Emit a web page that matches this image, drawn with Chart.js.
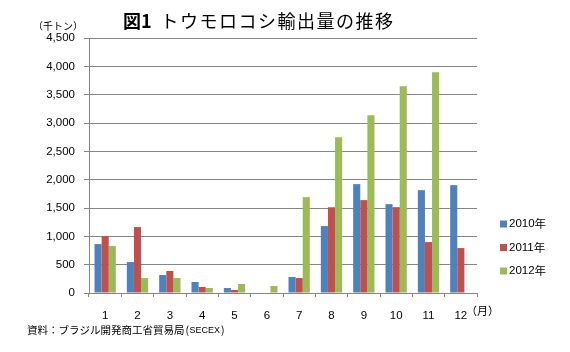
<!DOCTYPE html>
<html>
<head>
<meta charset="utf-8">
<script src="https://cdn.jsdelivr.net/npm/chart.js@4"></script>
<style>
  body { margin: 0; background: #fff; }
  #wrap { width: 570px; height: 352px; }
</style>
</head>
<body>
<div id="wrap"><canvas id="mycanvas" width="570" height="352"></canvas></div>
<script>
var months = ['1', '2', '3', '4', '5', '6', '7', '8', '9', '10', '11', '12'];
var years = ['2010年', '2011年', '2012年'];
var v2010 = [863, 546, 317, 194, 88, 0, 282, 1181, 1921, 1568, 1815, 1903];
var v2011 = [1004, 1163, 388, 106, 53, 0, 264, 1515, 1639, 1515, 899, 793];
var v2012 = [828, 264, 264, 88, 159, 123, 1692, 2749, 3137, 3648, 3894, null];
var yTicks = [0, 500, 1000, 1500, 2000, 2500, 3000, 3500, 4000, 4500];
var colors = ['#4f81bd', '#c0504d', '#9bbb59'];

var jp = '"Noto Sans CJK JP", sans-serif';
var num = '"Liberation Sans", sans-serif';

var extras = {
  id: 'extras',
  afterDraw: function(chart) {
    var c = chart.ctx;
    var area = chart.chartArea;
    c.save();
    c.fillStyle = '#000';
    c.textBaseline = 'middle';
    c.textAlign = 'left';
    // title
    c.font = 'bold 18px ' + jp;
    c.fillText('図1', 123, 21);
    var tw = c.measureText('図1').width;
    c.font = '18px ' + jp;
    c.letterSpacing = '1.5px';
    c.fillText('トウモロコシ輸出量の推移', 123 + tw + 9, 21);
    c.letterSpacing = '0px';
    // unit labels
    c.font = '10px ' + jp;
    c.fillText('（千トン）', 33, 26);
    c.font = '11px ' + jp;
    c.fillText('（月）', 466, 311);
    // source
    c.font = '10.5px ' + jp;
    var src = '資料：ブラジル開発商工省貿易局';
    c.fillText(src, 27, 330);
    var sw = c.measureText(src).width;
    c.fillText('(', 27 + sw + 1, 330);
    c.font = '9px ' + num;
    c.fillText('SECEX', 27 + sw + 5, 331);
    var ew = c.measureText('SECEX').width;
    c.font = '10.5px ' + jp;
    c.fillText(')', 27 + sw + 6 + ew, 330);
    // legend
    chart.data.datasets.forEach(function(ds, i) {
      var y = 224 + i * 23.5;
      var txt = ds.label.replace('年', '');
      c.fillStyle = ds.backgroundColor;
      c.fillRect(area.right + 23, y - 3.5, 7, 7);
      c.fillStyle = '#000';
      c.font = '11.5px ' + num;
      c.fillText(txt, area.right + 32, y);
      var w = c.measureText(txt).width;
      c.font = '11.5px ' + jp;
      c.fillText('年', area.right + 32 + w, y);
    });
    c.restore();
  }
};

var chartdata = {
  labels: months,
  datasets: [
    { label: years[0], backgroundColor: colors[0], data: v2010 },
    { label: years[1], backgroundColor: colors[1], data: v2011 },
    { label: years[2], backgroundColor: colors[2], data: v2012 }
  ]
};

new Chart(document.getElementById('mycanvas'), {
  type: 'bar',
  data: chartdata,
  plugins: [extras],
  options: {
    responsive: false,
    animation: false,
    devicePixelRatio: 1,
    layout: { padding: { left: 0, right: 93, top: 38, bottom: 0 } },
    datasets: { bar: { categoryPercentage: 0.66, barPercentage: 1 } },
    plugins: { legend: { display: false }, title: { display: false }, tooltip: { enabled: false } },
    scales: {
      x: {
        afterFit: function(s) { s.height = 59; },
        grid: { drawOnChartArea: false, drawTicks: true, tickLength: 4, color: '#868686', offset: true },
        border: { color: '#868686', width: 1 },
        ticks: { color: '#000', padding: 12, font: { family: num, size: 11.5 }, maxRotation: 0 }
      },
      y: {
        min: 0, max: 4500,
        afterFit: function(s) { s.width = 89; },
        afterBuildTicks: function(s) { s.ticks = yTicks.map(function(v) { return { value: v }; }); },
        grid: { color: '#868686', tickLength: 5, lineWidth: 1 },
        border: { color: '#868686', width: 1 },
        ticks: {
          color: '#000', padding: 9, font: { family: num, size: 11.5 },
          callback: function(v) { return v.toLocaleString('en-US'); }
        }
      }
    }
  }
});
</script>
</body>
</html>
